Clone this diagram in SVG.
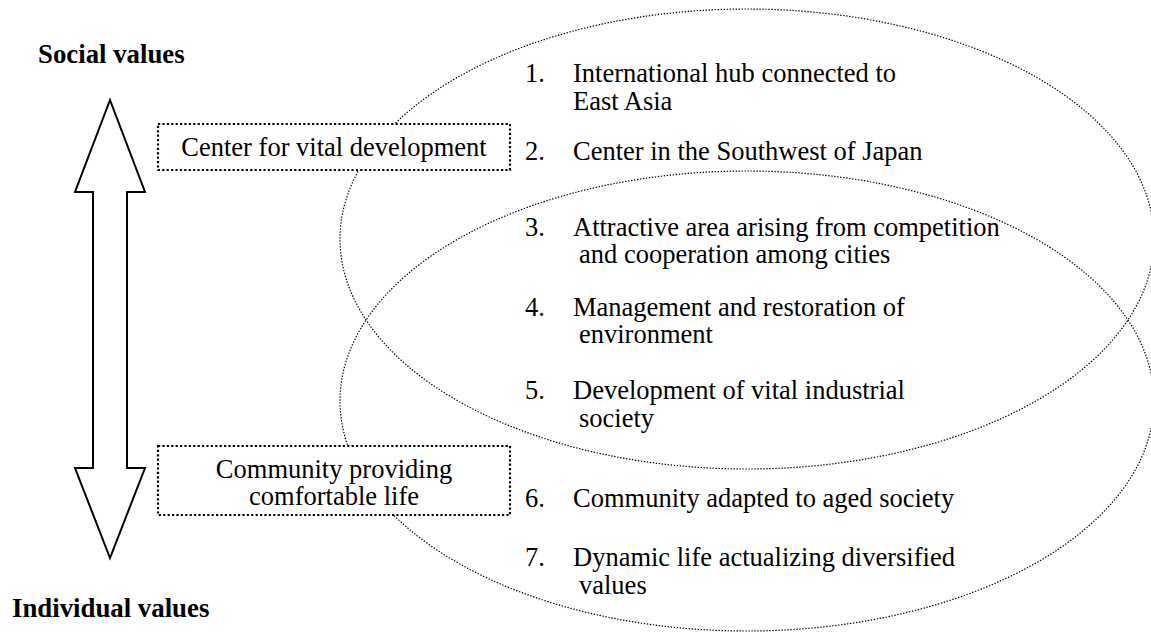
<svg xmlns="http://www.w3.org/2000/svg" width="1151" height="633" viewBox="0 0 1151 633">
<style>
.t{font-family:"Liberation Serif","Times New Roman",Times,serif;font-size:26.5px;fill:#000}
.b{font-family:"Liberation Serif","Times New Roman",Times,serif;font-size:26.8px;font-weight:bold;fill:#000}
.ell{fill:none;stroke:#000;stroke-width:1.2;stroke-dasharray:1.4 1.6}
.box{fill:#fff;stroke:#000;stroke-width:2.2;stroke-dasharray:2.2 2.2}
</style>
<rect width="1151" height="633" fill="#fff"/>
<g id="ellipses">
<ellipse class="ell" cx="747" cy="239" rx="407" ry="230"/>
<ellipse class="ell" cx="747" cy="401" rx="407" ry="230"/>
</g>
<g id="connectors">
<polygon points="110,100 145,192 127,192 127,468 145,468 110,558 75,468 93,468 93,192 75,192" fill="#fff" stroke="#000" stroke-width="2"/>
</g>
<g id="social"><text class="b" x="38" y="63">Social values</text></g>
<g id="individual"><text class="b" x="12" y="617">Individual values</text></g>
<g id="center-box">
<rect class="box" x="158" y="124" width="352" height="46"/>
<text class="t" x="334" y="156" text-anchor="middle">Center for vital development</text>
</g>
<g id="community-box">
<rect class="box" x="158" y="446" width="352" height="69"/>
<text class="t" x="334" y="478" text-anchor="middle">Community providing</text>
<text class="t" x="334" y="505" text-anchor="middle">comfortable life</text>
</g>
<g id="item1"><text class="t" x="525" y="82">1.</text><text class="t" x="573" y="82">International hub connected to</text><text class="t" x="573" y="110">East Asia</text></g>
<g id="item2"><text class="t" x="525" y="160">2.</text><text class="t" x="573" y="160">Center in the Southwest of Japan</text></g>
<g id="item3"><text class="t" x="525" y="236">3.</text><text class="t" x="573" y="236">Attractive area arising from competition</text><text class="t" x="579" y="263">and cooperation among cities</text></g>
<g id="item4"><text class="t" x="525" y="316">4.</text><text class="t" x="573" y="316">Management and restoration of</text><text class="t" x="579" y="343">environment</text></g>
<g id="item5"><text class="t" x="525" y="399">5.</text><text class="t" x="573" y="399">Development of vital industrial</text><text class="t" x="579" y="427">society</text></g>
<g id="item6"><text class="t" x="525" y="507">6.</text><text class="t" x="573" y="507">Community adapted to aged society</text></g>
<g id="item7"><text class="t" x="525" y="566">7.</text><text class="t" x="573" y="566">Dynamic life actualizing diversified</text><text class="t" x="579" y="594">values</text></g>
</svg>
